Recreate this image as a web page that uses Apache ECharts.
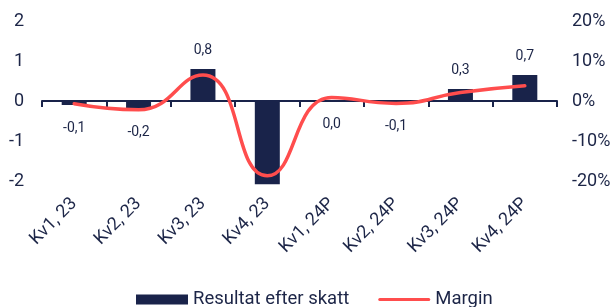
<!DOCTYPE html>
<html><head><meta charset="utf-8">
<script src="https://cdn.jsdelivr.net/npm/echarts@6/dist/echarts.min.js"></script>
<style>html,body{margin:0;padding:0;background:#fff}#c{width:614px;height:307px}</style>
</head><body><div id="c"></div>
<script>
const categories = ['Kv1, 23','Kv2, 23','Kv3, 23','Kv4, 23','Kv1, 24P','Kv2, 24P','Kv3, 24P','Kv4, 24P'];
const resultat = [-0.1, -0.2, 0.8, -2.08, 0.0, -0.05, 0.3, 0.65];
const resultatLabels = ['-0,1','-0,2','0,8','','0,0','-0,1','0,3','0,7'];
const margin = [-0.7, -2.2, 6.5, -18.7, 0.9, -0.6, 2.1, 3.8];
const leftTicks = [-2,-1,0,1,2];
const navy = '#19234a', red = '#ff4d4d', txt = '#1c2547';
const font = 'Roboto';
const chart = echarts.init(document.getElementById('c'));
chart.setOption({
  animation:false,
  textStyle:{fontFamily:font,color:txt},
  grid:{left:42,right:57,top:21,height:160},
  legend:{top:285,left:131,itemWidth:52,itemHeight:10,itemGap:29,
    textStyle:{fontFamily:font,fontSize:18.5,color:txt},
    data:[{name:'Resultat efter skatt',icon:'rect'},
          {name:'Margin',icon:'path://M1.5,0 L50.5,0 A1.5,1.5 0 0 1 50.5,3 L1.5,3 A1.5,1.5 0 0 1 1.5,0 Z',itemStyle:{color:red}}]},
  xAxis:[
    {type:'category',data:categories,axisLine:{onZero:true,lineStyle:{color:navy,width:2}},
     axisTick:{show:true,length:6,lineStyle:{color:navy,width:2}},axisLabel:{show:false},splitLine:{show:false}},
    {type:'category',data:categories,position:'bottom',axisLine:{show:false,onZero:false},axisTick:{show:false},
     axisLabel:{rotate:45,fontSize:18,color:txt,fontFamily:font,margin:20,interval:0}}
  ],
  yAxis:[
    {type:'value',min:-2,max:2,interval:1,splitLine:{show:false},axisLine:{show:false},axisTick:{show:false},
     axisLabel:{fontSize:18,color:txt,margin:18,formatter:v=>String(v)}},
    {type:'value',min:-20,max:20,interval:10,splitLine:{show:false},axisLine:{show:false},axisTick:{show:false},
     axisLabel:{fontSize:18,color:txt,margin:15,formatter:v=>v+'%'}}
  ],
  series:[
    {name:'Resultat efter skatt',type:'bar',xAxisIndex:0,yAxisIndex:0,barWidth:25,clip:false,itemStyle:{color:navy},
     data:resultat.map((v,i)=>({value:v,label:{show:resultatLabels[i]!=='',position:v>0?'top':'bottom',distance:v>0?12:16}})),
     label:{fontSize:14,color:txt,fontFamily:font,formatter:p=>resultatLabels[p.dataIndex]}},
    {name:'Margin',type:'line',xAxisIndex:0,yAxisIndex:1,smooth:0.5,symbol:'none',z:5,
     lineStyle:{color:red,width:3.5,cap:'round'},itemStyle:{color:red},data:margin}
  ]
});
</script></body></html>
